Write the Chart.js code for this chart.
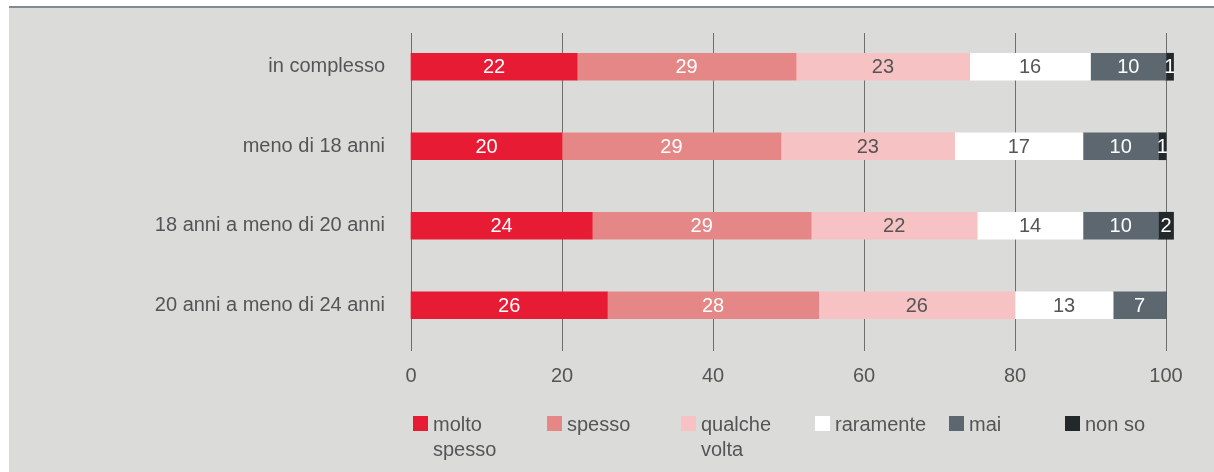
<!DOCTYPE html>
<html>
<head>
<meta charset="utf-8">
<script src="https://cdn.jsdelivr.net/npm/chart.js@4"></script>
<style>
    body { margin: 0; background: #fff; }
    #panel {
        position: absolute;
        left: 9px;
        top: 6px;
        width: 1205px;
        height: 464px;
        border-top: 2px solid #7f8a93;
        background: #dbdcd9;
    }
    canvas { display: block; }
</style>
</head>
<body>
<div id="panel"><canvas id="frequenzaChart" width="1205" height="464"></canvas></div>
<script>
const categories = ["in complesso", "meno di 18 anni", "18 anni a meno di 20 anni", "20 anni a meno di 24 anni"];
const moltoSpesso = [22, 20, 24, 26];
const spesso = [29, 29, 29, 28];
const qualcheVolta = [23, 23, 22, 26];
const raramente = [16, 17, 14, 13];
const mai = [10, 10, 10, 7];
const nonSo = [1, 1, 2, 0];
const seriesNames = [["molto", "spesso"], ["spesso"], ["qualche", "volta"], ["raramente"], ["mai"], ["non so"]];
const xTicks = [0, 20, 40, 60, 80, 100];

const FONT = "'Liberation Sans', Arial, sans-serif";
const TEXT_GREY = "#555555";

const seriesColors = ["#e81b35", "#e68787", "#f6c2c3", "#ffffff", "#5c6770", "#23282b"];
const labelColors = ["#ffffff", "#ffffff", TEXT_GREY, TEXT_GREY, "#ffffff", "#ffffff"];
const seriesValues = [moltoSpesso, spesso, qualcheVolta, raramente, mai, nonSo];

// vertical grid lines, drawn behind the bars and running a bit below the plot
const gridLines = {
    id: "gridLines",
    beforeDatasetsDraw(chart) {
        const { ctx, chartArea, scales } = chart;
        ctx.save();
        ctx.strokeStyle = "#6e6e6e";
        ctx.lineWidth = 1;
        xTicks.forEach(v => {
            const px = Math.round(scales.x.getPixelForValue(v)) + 0.5;
            ctx.beginPath();
            ctx.moveTo(px, chartArea.top + 6);
            ctx.lineTo(px, chartArea.bottom + 6);
            ctx.stroke();
        });
        ctx.restore();
    }
};

// value written in the middle of each segment
const barValues = {
    id: "barValues",
    afterDatasetsDraw(chart) {
        const { ctx } = chart;
        ctx.save();
        ctx.font = "20px " + FONT;
        ctx.textAlign = "center";
        ctx.textBaseline = "middle";
        chart.data.datasets.forEach((ds, i) => {
            const meta = chart.getDatasetMeta(i);
            meta.data.forEach((bar, j) => {
                const v = ds.data[j];
                if (!v) return;
                ctx.fillStyle = labelColors[i];
                ctx.fillText(String(v), (bar.x + bar.base) / 2, bar.y + 1);
            });
        });
        ctx.restore();
    }
};

// legend under the axis, one column per series, names may wrap on two lines
const legendBox = {
    id: "legendBox",
    afterDraw(chart) {
        const { ctx, chartArea } = chart;
        const offsets = [0, 134, 268, 402, 536, 652];
        const top = 408;
        ctx.save();
        ctx.font = "20px " + FONT;
        ctx.textAlign = "left";
        ctx.textBaseline = "middle";
        seriesNames.forEach((lines, i) => {
            const x = chartArea.left + 2 + offsets[i];
            ctx.fillStyle = seriesColors[i];
            ctx.fillRect(x, top, 15, 15);
            ctx.fillStyle = TEXT_GREY;
            lines.forEach((t, k) => ctx.fillText(t, x + 20, top + 9 + k * 25));
        });
        ctx.restore();
    }
};

const ctx = document.getElementById("frequenzaChart").getContext("2d");
new Chart(ctx, {
    type: "bar",
    data: {
        labels: categories,
        datasets: seriesValues.map((vals, i) => ({
            label: seriesNames[i].join(" "),
            data: vals,
            backgroundColor: seriesColors[i],
            borderWidth: 0,
            barThickness: 27,
            clip: false
        }))
    },
    options: {
        indexAxis: "y",
        responsive: false,
        devicePixelRatio: 1,
        animation: false,
        layout: { padding: { top: 19, bottom: 65, left: 0, right: 48 } },
        plugins: {
            legend: { display: false },
            tooltip: { enabled: false }
        },
        scales: {
            x: {
                stacked: true,
                min: 0,
                max: 100,
                grid: { display: false, drawTicks: false },
                border: { display: false },
                ticks: {
                    stepSize: 20,
                    padding: 19,
                    color: TEXT_GREY,
                    font: { family: FONT, size: 20 }
                }
            },
            y: {
                stacked: true,
                grid: { display: false, drawTicks: false },
                border: { display: false },
                ticks: {
                    padding: 26,
                    color: TEXT_GREY,
                    font: { family: FONT, size: 20 }
                },
                afterFit(scale) {
                    scale.width = 402;
                    scale.paddingTop = 0;
                    scale.paddingBottom = 0;
                }
            }
        }
    },
    plugins: [gridLines, barValues, legendBox]
});
</script>
</body>
</html>
